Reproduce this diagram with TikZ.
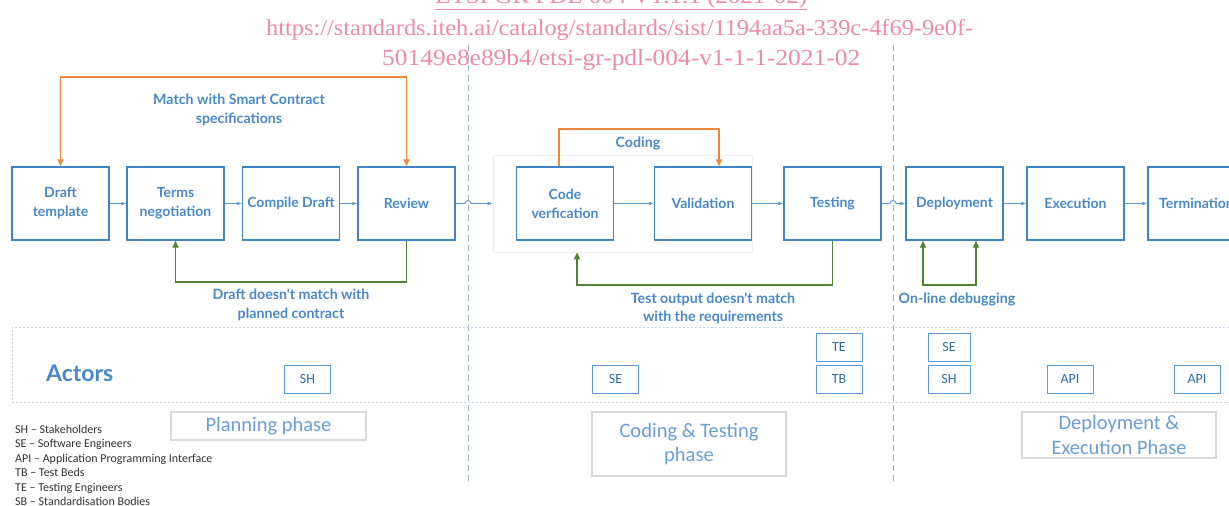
\documentclass[tikz,border=0pt]{standalone}
\usepackage{fontspec}
\usetikzlibrary{arrows.meta,fit}
\newfontfamily\latofont{Lato}
\newfontfamily\carlfont{Carlito}
\newfontfamily\wmfont{Liberation Serif}
\definecolor{boxblue}{HTML}{3D85C6}
\definecolor{txtblue}{HTML}{4A88C7}
\definecolor{flowblue}{HTML}{5B9BD5}
\definecolor{orng}{HTML}{F0873A}
\definecolor{grn}{HTML}{548235}
\definecolor{actorblue}{HTML}{5B9BD5}
\definecolor{actortxt}{HTML}{2E6DA4}
\definecolor{phasegray}{HTML}{D9D9D9}
\definecolor{phasetxt}{HTML}{6A9FD6}
\definecolor{legtxt}{HTML}{333333}
\definecolor{divcol}{HTML}{9DB6CF}
\definecolor{bandcol}{HTML}{C5D6E8}
\definecolor{framecol}{HTML}{EDEDED}
\definecolor{wmpink}{HTML}{EE8AAA}
\tikzset{
  stepbox/.style={draw=boxblue, line width=1.4pt, minimum width=97pt, minimum height=73pt,
    inner sep=0pt, align=center, font=\latofont\bfseries\fontsize{14}{19}\selectfont, text=txtblue},
  lbl/.style={align=center, inner sep=0pt, font=\latofont\bfseries\fontsize{14.2}{18.5}\selectfont, text=txtblue},
  flow/.style={draw=flowblue, line width=0.9pt, -{Latex[length=5pt,width=4pt]}},
  oline/.style={draw=orng, line width=1.8pt, arrows={-{Triangle[length=7pt,width=6pt]}}},
  gline/.style={draw=grn, line width=1.8pt, arrows={-{Triangle[length=7pt,width=6pt]}}},
  actor/.style={draw=actorblue, line width=1pt, minimum width=46pt, minimum height=28pt,
    inner sep=0pt, font=\carlfont\fontsize{14}{14}\selectfont, text=actortxt},
  phase/.style={draw=phasegray, line width=1.2pt, inner sep=0pt, align=center,
    font=\carlfont\fontsize{20.5}{24.5}\selectfont, text=phasetxt},
  legend/.style={anchor=base west, inner sep=0pt, font=\carlfont\fontsize{12}{12}\selectfont, text=legtxt},
  divider/.style={draw=divcol, line width=1pt, dash pattern=on 6pt off 4pt},
  band/.style={draw=bandcol, line width=0.8pt, dash pattern=on 2pt off 2pt},
  wm/.style={anchor=base west, inner sep=0pt, text=wmpink, font=\wmfont\fontsize{23.5}{23.5}\selectfont}
}
\begin{document}
\begin{tikzpicture}[x=1pt,y=-1pt]
\useasboundingbox (0,0) rectangle (1229,506);
\clip (0,0) rectangle (1229,506);
\fill[white] (0,0) rectangle (1229,506);

% watermark
\node[wm] (wm1) at (435,3) {\resizebox{372pt}{15.5pt}{\underline{ETSI GR PDL 004 V1.1.1 (2021-02)}}};
\node[wm] (wm2) at (266,35) {\resizebox{707pt}{16pt}{https://standards.iteh.ai/catalog/standards/sist/1194aa5a-339c-4f69-9e0f-}};
\node[wm] (wm3) at (382,65) {\resizebox{478pt}{16pt}{50149e8e89b4/etsi-gr-pdl-004-v1-1-1-2021-02}};

% phase dividers
\coordinate (d1t) at (468,45); \coordinate (d1b) at (468,485);
\coordinate (d2t) at (893,45); \coordinate (d2b) at (893,485);
\draw[divider] (d1t) -- (d1b);
\draw[divider] (d2t) -- (d2b);

% actors band
\coordinate (bandtl) at (12,327); \coordinate (bandbl) at (12,402);
\coordinate (bandtr) at (1229,327); \coordinate (bandbr) at (1229,402);
\draw[band] (bandtr) -- (bandtl) -- (bandbl) -- (bandbr);

% coding frame
\node[draw=framecol, line width=0.8pt, minimum width=259pt, minimum height=97pt, inner sep=0pt] (frame) at (622.5,203.5) {};

% process boxes
\node[stepbox] (draft) at (60.5,203.5) {Draft\\template};
\node[stepbox] (terms) at (175.5,203.5) {Terms\\negotiation};
\node[stepbox] (compile) at (291,203.5) {Compile Draft};
\node[stepbox] (review) at (406.5,203.5) {Review};
\node[stepbox] (codev) at (565,203.5) {Code\\verfication};
\node[stepbox] (valid) at (703,203.5) {Validation};
\node[stepbox] (testing) at (832.5,203.5) {Testing};
\node[stepbox] (deploy) at (954.5,203.5) {Deployment};
\node[stepbox] (exec) at (1075.5,203.5) {Execution};
\node[stepbox] (term) at (1196.5,203.5) {Termination};

% forward flow
\draw[flow] (draft) -- (terms);
\draw[flow] (terms) -- (compile);
\draw[flow] (compile) -- (review);
\draw[flow] (review.east) -- (465,203.5) arc (180:360:3) -- (frame.west);
\draw[flow] (codev) -- (valid);
\draw[flow] (valid) -- (testing);
\draw[flow] (testing.east) -- (890,203.5) arc (180:360:3) -- (deploy.west);
\draw[flow] (deploy) -- (exec);
\draw[flow] (exec) -- (term);

% planning loops
\coordinate (otop) at (60.5,77);
\draw[oline, arrows={{Triangle[length=7pt,width=6pt]}-{Triangle[length=7pt,width=6pt]}}]
  (draft.north) -- (draft.north |- otop) -- (review.north |- otop) -- (review.north);
\node[lbl] (matchlbl) at (239,110) {Match with Smart Contract\\specifications};
\coordinate (gbot1) at (406.5,282);
\draw[gline] (review.south) -- (gbot1) -| (terms.south);
\node[lbl] (draftlbl) at (291,305) {Draft doesn't match with\\planned contract};

% coding loops
\coordinate (ctop) at (559,129);
\draw[oline] ([xshift=-6pt]codev.north) -- (ctop) -| ([xshift=16pt]valid.north);
\node[lbl] (codinglbl) at (638,144) {Coding};
\coordinate (gbot2) at (832.5,285);
\draw[gline] (testing.south) -- (gbot2) -| ([xshift=12pt]codev.south |- frame.south);
\node[lbl] (testlbl) at (713,308.5) {Test output doesn't match\\with the requirements};

% deployment loop
\coordinate (dbot) at (923,285);
\draw[gline, arrows={{Triangle[length=7pt,width=6pt]}-{Triangle[length=7pt,width=6pt]}}]
  ([xshift=-31.5pt]deploy.south) -- (dbot) -| ([xshift=21.5pt]deploy.south);
\node[lbl] (debuglbl) at (957,300) {On-line debugging};

% actors
\node[anchor=west, inner sep=0pt, font=\latofont\bfseries\fontsize{23}{23}\selectfont, text=txtblue] (actors) at (46,373) {Actors};
\node[actor] (sh1) at (307.5,379.5) {SH};
\node[actor] (se1) at (615.5,379.5) {SE};
\node[actor] (te) at (839,347.5) {TE};
\node[actor] (tb) at (839,379.5) {TB};
\node[actor, minimum width=42pt] (se2) at (949,347.5) {SE};
\node[actor, minimum width=42pt] (sh2) at (949,379.5) {SH};
\node[actor] (api1) at (1070,379.5) {API};
\node[actor] (api2) at (1197,379.5) {API};

% phases
\node[phase, minimum width=195pt, minimum height=28pt] (plan) at (268.5,426) {Planning phase};
\node[phase, minimum width=194pt, minimum height=64pt] (codph) at (689,444) {Coding \& Testing\\phase};
\node[phase, minimum width=194pt, minimum height=46pt] (depph) at (1119,435) {Deployment \&\\Execution Phase};

% legend
\node[legend] (leg1) at (15,433) {SH – Stakeholders};
\node[legend] (leg2) at (15,447.5) {SE – Software Engineers};
\node[legend] (leg3) at (15,462) {API – Application Programming Interface};
\node[legend] (leg4) at (15,476.5) {TB – Test Beds};
\node[legend] (leg5) at (15,491) {TE – Testing Engineers};
\node[legend] (leg6) at (15,505) {SB – Standardisation Bodies};
\end{tikzpicture}
\end{document}
